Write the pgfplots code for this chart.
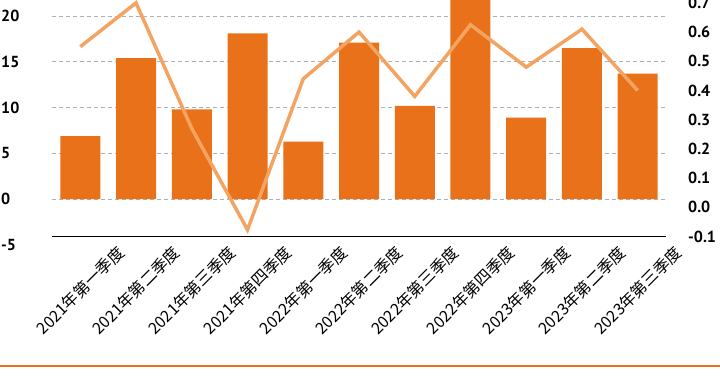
\documentclass[border=0pt]{standalone}
\usepackage{fontspec}
\setmainfont{PT Sans}[BoldFont={PT Sans Bold}]
\newfontfamily\cjk{Noto Sans CJK SC}
\usepackage{pgfplots}
\pgfplotsset{compat=1.18}
\definecolor{barc}{HTML}{E8711A}
\definecolor{linec}{HTML}{F4A462}
\definecolor{gridc}{HTML}{A9B0B8}
\begin{document}
\begin{tikzpicture}[x=1pt,y=1pt]
% left axis: bars
\begin{axis}[
  at={(52.4pt,135pt)}, anchor=south west,
  scale only axis, width=613.2pt, height=245pt,
  xmin=-0.5, xmax=10.5, ymin=-5, ymax=21.75,
  hide x axis,
  axis y line*=left, y axis line style={draw=none},
  major tick length=0pt,
  ytick={0,5,10,15,20}, yticklabels={0,5,10,15,20},
  extra y ticks={-5}, extra y tick labels={-5},
  extra y tick style={grid=none},
  ymajorgrids, grid style={gridc, line width=0.8pt, dash pattern=on 4pt off 3pt},
  yticklabel style={font=\fontsize{16}{16}\selectfont\bfseries, anchor=west, inner sep=0pt, xshift=-51.4pt},
  clip=true,
]
\addplot[ybar, bar width=40pt, fill=barc, draw=none] coordinates {
  (0,6.9) (1,15.4) (2,9.8) (3,18.1) (4,6.3) (5,17.1) (6,10.2) (7,23.0) (8,8.9) (9,16.5) (10,13.7)
};
\end{axis}
% right axis: line
\begin{axis}[
  at={(52.4pt,143.5pt)}, anchor=south west,
  scale only axis, width=613.2pt, height=236.5pt,
  xmin=-0.5, xmax=10.5, ymin=-0.1, ymax=0.7099,
  axis x line*=bottom, axis y line*=right,
  x axis line style={black, line width=1.5pt},
  y axis line style={draw=none},
  major tick length=0pt,
  ytick={-0.1,0,0.1,0.2,0.3,0.4,0.5,0.6,0.7},
  yticklabels={-0.1,0.0,0.1,0.2,0.3,0.4,0.5,0.6,0.7},
  yticklabel style={font=\fontsize{16}{16}\selectfont\bfseries, anchor=west, inner sep=0pt, xshift=22.4pt},
  xtick={0,1,2,3,4,5,6,7,8,9,10},
  xticklabels={2021年第一季度,2021年第二季度,2021年第三季度,2021年第四季度,2022年第一季度,2022年第二季度,2022年第三季度,2022年第四季度,2023年第一季度,2023年第二季度,2023年第三季度},
  xticklabel style={font=\cjk\fontsize{16}{16}\selectfont, anchor=center, yshift=-54pt, rotate=45},
  clip=false,
]
\addplot[linec, line width=3.5pt, line join=miter] coordinates {
  (0,0.55) (1,0.70) (2,0.27) (3,-0.077) (4,0.44) (5,0.60) (6,0.38) (7,0.625) (8,0.48) (9,0.61) (10,0.40)
};
\end{axis}
\draw[barc, line width=2pt] (0,13.5) -- (720,13.5);
\pgfresetboundingbox
\useasboundingbox (0,0) rectangle (720,380);
\end{tikzpicture}
\end{document}
